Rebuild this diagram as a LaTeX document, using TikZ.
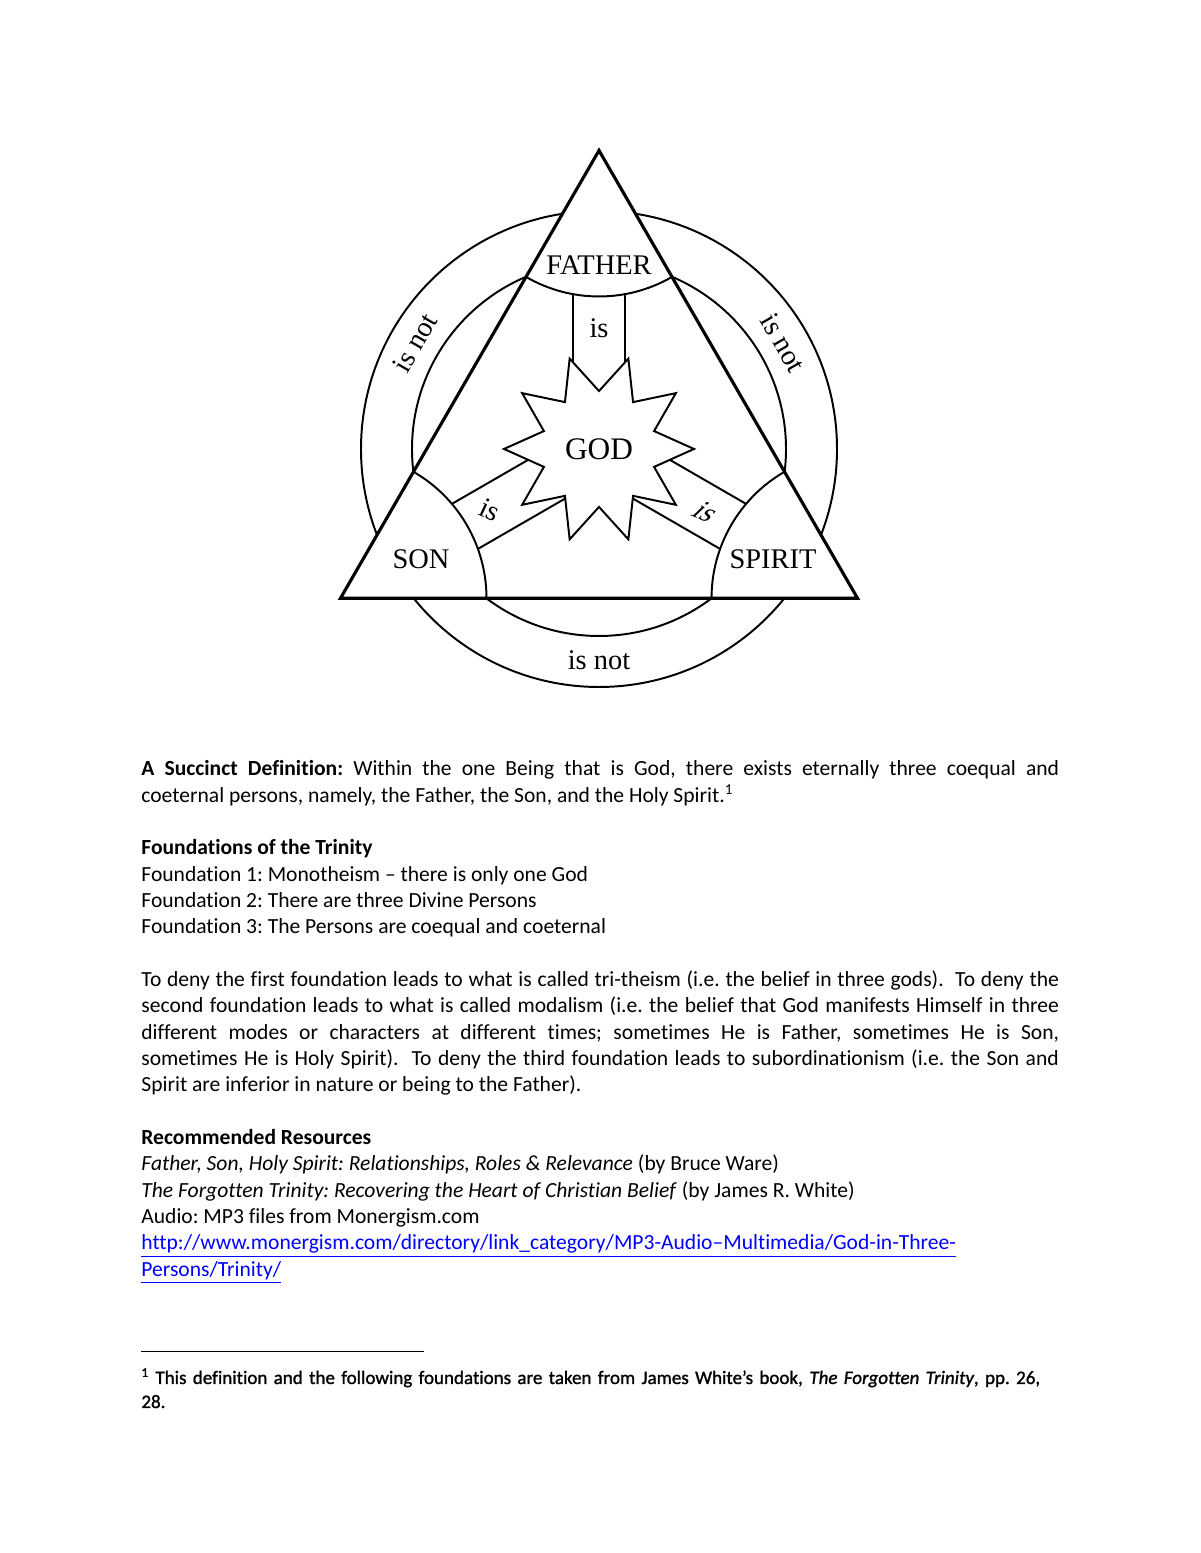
\documentclass[tikz,border=0pt]{standalone}
\usepackage{fontspec}
\setmainfont{Carlito}[Ligatures={NoCommon}]
\newfontfamily\diagfont{Liberation Serif}
\usepackage{xcolor}
\usetikzlibrary{positioning,shapes.geometric}
\frenchspacing

\begin{document}
\begin{tikzpicture}[x=0.51pt,y=0.51pt,
    ring/.style={line width=1pt},
    frame/.style={line width=1.6pt},
    person/.style={font=\diagfont\fontsize{14.5}{16}\selectfont, inner sep=0pt},
    relation/.style={font=\diagfont\fontsize{14.5}{16}\selectfont, inner sep=0pt},
    godstar/.style={star, star points=10, star point ratio=1.64, shape border rotate=18,
        minimum size=96.9pt, inner sep=0pt, draw, line width=1pt, fill=white,
        font=\diagfont\fontsize{16}{18}\selectfont},
    bodytext/.style={text width=468pt, align=justify, inner sep=0pt,
        font={\fontsize{11}{13.43}\selectfont}},
    notetext/.style={text width=468pt, align=left, inner sep=0pt,
        font={\fontsize{9.7}{12.24}\selectfont}}]
    \useasboundingbox[fill=white] (0,0) rectangle (1200,1553);

    \begin{scope}[shift={(599,1104)}]
    % Nodes
    \coordinate (centre) at (0,0);
    \coordinate (top-vertex) at (90:298.5);
    \coordinate (left-vertex) at (210:298.5);
    \coordinate (right-vertex) at (330:298.5);

    % rings, only outside the triangle
    \draw[ring] (centre) circle (238);
    \draw[ring] (centre) circle (187);
    \fill[white] (top-vertex) -- (left-vertex) -- (right-vertex) -- cycle;

    % corner caps
    \draw[ring] (top-vertex) ++(240:146) arc[start angle=240, end angle=300, radius=146];
    \draw[ring] (left-vertex) ++(0:146) arc[start angle=0, end angle=60, radius=146];
    \draw[ring] (right-vertex) ++(120:146) arc[start angle=120, end angle=180, radius=146];

    % arrows into the star
    \foreach \r in {0,120,240}
        \draw[ring, rotate=\r] (-26,0) -- (-26,154.8) (26,0) -- (26,154.8);

    \node[godstar] (god) at (centre) {GOD};

    % Lines
    \draw[frame, line join=miter] (top-vertex) -- (left-vertex) -- (right-vertex) -- cycle;

    % labels
    \node[person] (father) at (0,184) {FATHER};
    \node[person] (son) at (-178,-110) {SON};
    \node[person] (spirit) at (174,-110) {SPIRIT};
    \node[relation] (father-is) at (0,121) {is};
    \node[relation, rotate=-25] (son-is) at (-109,-61) {is};
    \node[relation, rotate=-22, xslant=0.45] (spirit-is) at (107,-63) {is};
    \node[relation, rotate=60] (left-isnot) at (150:212.5) {is not};
    \node[relation, rotate=-60] (right-isnot) at (30:212.5) {is not};
    \node[relation] (bottom-isnot) at (270:211) {is not};
    \end{scope}

    % text under the diagram
    \node[bodytext, anchor=base west] (definition) at (141,777) {\hyphenpenalty=10000\relax
        \textbf{A Succinct Definition:} Within the one Being that is God, there exists eternally three coequal and\linebreak
        coeternal persons, namely, the Father, the Son, and the Holy Spirit.\textsuperscript{1}\par
        \strut\par
        \textbf{Foundations of the Trinity}\newline
        Foundation 1: Monotheism -- there is only one God\newline
        Foundation 2: There are three Divine Persons\newline
        Foundation 3: The Persons are coequal and coeternal\par
        \strut\par
        To deny the first foundation leads to what is called tri-theism (i.e. the belief in three gods). \ To deny the\linebreak
        second foundation leads to what is called modalism (i.e. the belief that God manifests Himself in three\linebreak
        different modes or characters at different times; sometimes He is Father, sometimes He is Son,\linebreak
        sometimes He is Holy Spirit). \ To deny the third foundation leads to subordinationism (i.e. the Son and\linebreak
        Spirit are inferior in nature or being to the Father).\par
        \strut\par
        \textbf{Recommended Resources}\newline
        \textit{Father, Son, Holy Spirit: Relationships, Roles \& Relevance} (by Bruce Ware)\newline
        \textit{The Forgotten Trinity: Recovering the Heart of Christian Belief} (by James R. White)\newline
        Audio: MP3 files from Monergism.com\newline
        \textcolor{blue}{\underline{http://www.monergism.com/directory/link\_category/MP3-Audio--Multimedia/God-in-Three-}}\newline
        \textcolor{blue}{\underline{Persons/Trinity/}}};

    % footnote
    \coordinate (rule-start) at (141,202);
    \coordinate (rule-end) at (424,202);
    \draw[line width=0.5pt] (rule-start) -- (rule-end);
    \node[notetext, anchor=base west] (footnote) at (141,169) {\addfontfeatures{FakeBold=1.2}%
        \textsuperscript{1} This definition and the following foundations are taken from James White's book, \textit{The Forgotten Trinity}, pp.~26,\newline
        28.};
\end{tikzpicture}
\end{document}
